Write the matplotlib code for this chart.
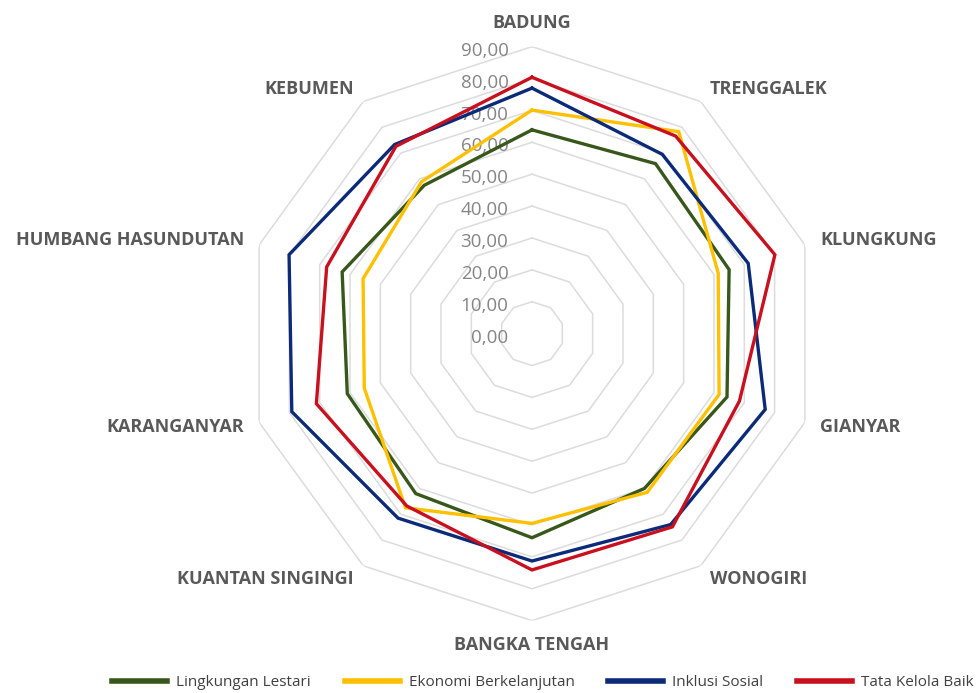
import numpy as np
import matplotlib
matplotlib.use("Agg")
import matplotlib.pyplot as plt

categories = ["BADUNG", "TRENGGALEK", "KLUNGKUNG", "GIANYAR", "WONOGIRI",
              "BANGKA TENGAH", "KUANTAN SINGINGI", "KARANGANYAR",
              "HUMBANG HASUNDUTAN", "KEBUMEN"]

lingkungan_lestari = [63.9, 65.9, 65.0, 64.3, 60.0, 64.0, 62.0, 60.9, 62.6, 57.5]
ekonomi_berkelanjutan = [70.1, 78.3, 61.4, 61.7, 61.5, 59.5, 67.5, 55.3, 55.7, 58.9]
inklusi_sosial = [77.0, 69.5, 71.3, 76.9, 74.0, 71.3, 71.5, 79.2, 80.1, 73.3]
tata_kelola_baik = [80.4, 76.6, 80.1, 68.4, 74.9, 74.1, 66.8, 71.1, 67.7, 72.6]

series_names = ["Lingkungan Lestari", "Ekonomi Berkelanjutan", "Inklusi Sosial", "Tata Kelola Baik"]
series_values = [lingkungan_lestari, ekonomi_berkelanjutan, inklusi_sosial, tata_kelola_baik]
series_colors = ["#38571A", "#FFC000", "#0B2A78", "#C8101E"]

ring_values = [0, 10, 20, 30, 40, 50, 60, 70, 80, 90]
ring_labels = ["0,00", "10,00", "20,00", "30,00", "40,00", "50,00", "60,00", "70,00", "80,00", "90,00"]

fig = plt.figure(figsize=(9.8, 6.93), dpi=100)
ax = fig.add_axes([0.25, 0.1044, 0.5857, 0.8283], projection="polar")
ax.set_theta_zero_location("N")
ax.set_theta_direction(-1)
ax.set_ylim(0, 90)
ax.grid(False)
ax.spines["polar"].set_visible(False)
ax.set_xticks([])
ax.set_yticks([])
ax.patch.set_alpha(0)

n = len(categories)
angles = np.linspace(0, 2 * np.pi, n, endpoint=False)
closed = np.concatenate([angles, angles[:1]])

# polygon gridlines
for rv in ring_values[1:]:
    ax.plot(closed, [rv] * (n + 1), color="#DCDCDC", lw=1.1, zorder=1)

# radial tick labels
for rv, lab in zip(ring_values, ring_labels):
    ax.annotate(lab, xy=(0, rv), xytext=(-17, -3), textcoords="offset points",
                ha="right", va="center", fontsize=13.5, color="#858585",
                family="Open Sans", zorder=2)

for vals, col, name in zip(series_values, series_colors, series_names):
    v = list(vals) + [vals[0]]
    ax.plot(closed, v, color=col, lw=2.4, label=name, zorder=3, solid_joinstyle="miter")

# category labels
for ang, cat in zip(angles, categories):
    s = np.sin(ang)
    if abs(s) < 0.1:
        ha = "center"
        r = 97.5
    elif s > 0:
        ha = "left"
        r = 95
    else:
        ha = "right"
        r = 95
    ax.text(ang, r, cat, ha=ha, va="center", fontsize=13, fontweight="bold",
            color="#595959", family="Open Sans", clip_on=False)

handles, labels = ax.get_legend_handles_labels()
leg = fig.legend(handles, labels, loc="center", bbox_to_anchor=(543 / 980, 1 - 683 / 693),
                 ncol=4, frameon=False, handlelength=3.6, columnspacing=2.2,
                 handletextpad=0.6, prop={"family": "Open Sans", "size": 11})
for t in leg.get_texts():
    t.set_color("#404040")
for l in leg.get_lines():
    l.set_linewidth(4)

fig.savefig("out.png", dpi=100)
